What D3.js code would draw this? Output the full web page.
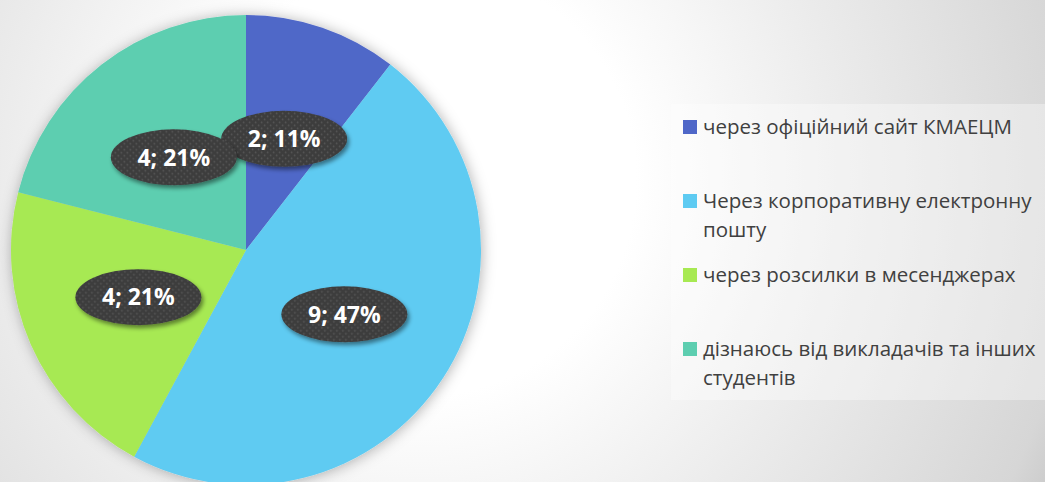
<!DOCTYPE html>
<html>
<head>
<meta charset="utf-8">
<script src="https://cdn.jsdelivr.net/npm/d3@7"></script>
<style>
  html, body { margin: 0; padding: 0; background: #fff; }
  svg { display: block; }
</style>
</head>
<body>
<svg id="chart"></svg>
<script>
// ── Data ─────────────────────────────────────────────────────────────────────
const categories = [
  "через офіційний сайт КМАЕЦМ",
  "Через корпоративну електронну пошту",
  "через розсилки в месенджерах",
  "дізнаюсь від викладачів та інших студентів"
];
// legend lines as wrapped in the original
const legendLines = [
  ["через офіційний сайт КМАЕЦМ"],
  ["Через корпоративну електронну", "пошту"],
  ["через розсилки в месенджерах"],
  ["дізнаюсь від викладачів та інших", "студентів"]
];
const values = [2, 9, 4, 4];
const colors = ["#4f67c8", "#5ecbf2", "#a7e952", "#5dceb0"];

// ── Layout ───────────────────────────────────────────────────────────────────
const VW = 1045, VH = 482;
const CX = 246, CY = 250, R = 235;

const svg = d3.select("#chart").attr("width", VW).attr("height", VH);
const defs = svg.append("defs");

// background: soft radial grey vignette
const bg = defs.append("radialGradient").attr("id", "bg-grad")
  .attr("gradientUnits", "userSpaceOnUse")
  .attr("cx", 420).attr("cy", 180).attr("r", 720);
[[0, "#ffffff"], [0.3, "#ffffff"], [0.58, "#ececec"], [0.92, "#d6d6d6"], [1, "#c6c6c6"]]
  .forEach(([o, c]) => bg.append("stop").attr("offset", o).attr("stop-color", c));
svg.append("rect").attr("width", VW).attr("height", VH).attr("fill", "url(#bg-grad)");

// pie shadow
const pieShadow = defs.append("filter").attr("id", "pie-shadow")
  .attr("x", "-20%").attr("y", "-20%").attr("width", "140%").attr("height", "140%");
pieShadow.append("feDropShadow").attr("dx", 1).attr("dy", 1).attr("stdDeviation", 7)
  .attr("flood-color", "#000").attr("flood-opacity", 0.3);

// label bubble shadow
const lblShadow = defs.append("filter").attr("id", "lbl-shadow")
  .attr("x", "-30%").attr("y", "-40%").attr("width", "160%").attr("height", "180%");
lblShadow.append("feDropShadow").attr("dx", 2).attr("dy", 3).attr("stdDeviation", 2)
  .attr("flood-color", "#000").attr("flood-opacity", 0.45);

// dotted texture for bubbles
const dots = defs.append("pattern").attr("id", "dots")
  .attr("patternUnits", "userSpaceOnUse").attr("width", 6).attr("height", 6);
dots.append("rect").attr("width", 6).attr("height", 6).attr("fill", "#3c3c3c");
dots.append("circle").attr("cx", 1.5).attr("cy", 1.5).attr("r", 0.9).attr("fill", "#585858");
dots.append("circle").attr("cx", 4.5).attr("cy", 4.5).attr("r", 0.9).attr("fill", "#585858");

// ── Pie ──────────────────────────────────────────────────────────────────────
const total = d3.sum(values);
const pie = d3.pie().sort(null).value(d => d.value);
const arcs = pie(values.map((v, i) => ({ value: v, name: categories[i], color: colors[i] })));
const arc = d3.arc().innerRadius(0).outerRadius(R);

const g = svg.append("g").attr("transform", `translate(${CX},${CY})`);
g.append("g").attr("filter", "url(#pie-shadow)")
  .selectAll("path")
  .data(arcs)
  .join("path")
  .attr("d", arc)
  .attr("fill", d => d.data.color);

// data labels: "value; pct%" on dark bubbles at the slice centroid
const lbl = g.selectAll("g.lbl")
  .data(arcs)
  .join("g")
  .attr("class", "lbl")
  .attr("transform", d => `translate(${arc.centroid(d)})`);

lbl.append("ellipse")
  .attr("rx", 63).attr("ry", 28)
  .attr("fill", "url(#dots)")
  .attr("filter", "url(#lbl-shadow)");

lbl.append("text")
  .attr("text-anchor", "middle")
  .attr("dy", "0.36em")
  .attr("font-family", "'Open Sans', sans-serif")
  .attr("font-weight", 700)
  .attr("font-size", "23px")
  .attr("fill", "#ffffff")
  .text(d => `${d.data.value}; ${Math.round(d.data.value / total * 100)}%`);

// ── Legend ───────────────────────────────────────────────────────────────────
const LX = 671, LY = 104, LW = VW - LX, LH = 296;
svg.append("rect")
  .attr("x", LX).attr("y", LY).attr("width", LW).attr("height", LH)
  .attr("fill", "#ffffff").attr("fill-opacity", 0.35);

const legend = svg.append("g").attr("transform", "translate(683,120)");
const item = legend.selectAll("g.item")
  .data(categories)
  .join("g")
  .attr("class", "item")
  .attr("transform", (d, i) => `translate(0,${i * 74})`);

item.append("rect")
  .attr("width", 14).attr("height", 14)
  .attr("fill", (d, i) => colors[i]);

item.each(function(d, i) {
  const t = d3.select(this).append("text")
    .attr("font-family", "'Open Sans', sans-serif")
    .attr("font-size", "20.5px")
    .attr("fill", "#404040");
  legendLines[i].forEach((line, j) => {
    t.append("tspan").attr("x", 20).attr("y", 14 + j * 29).text(line);
  });
});
</script>
</body>
</html>
